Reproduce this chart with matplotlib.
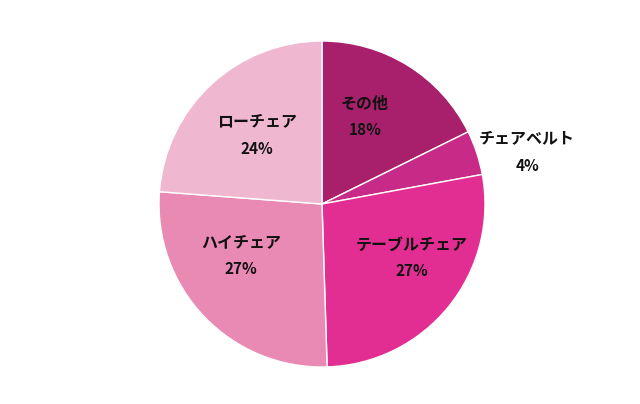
import matplotlib
matplotlib.use("Agg")
import matplotlib.pyplot as plt

plt.rcParams['font.family'] = ['Noto Sans CJK JP', 'DejaVu Sans']

categories = ["その他", "チェアベルト", "テーブルチェア", "ハイチェア", "ローチェア"]
values = [17.7, 4.4, 27.4, 26.7, 23.8]
colors = ["#A8206B", "#C82A88", "#E22E92", "#E98AB4", "#F0B7D0"]

W, H = 640, 404
cx, cy, R = 322, 204, 163

fig = plt.figure(figsize=(W / 100, H / 100), dpi=100)
ax = fig.add_axes([0, 0, 1, 1])
ax.pie(values, colors=colors, startangle=90, counterclock=False, radius=1,
       wedgeprops=dict(edgecolor="white", linewidth=1.0))
ax.set_xlim(-cx / R, (W - cx) / R)
ax.set_ylim(-(H - cy) / R, cy / R)
ax.set_aspect('equal')
ax.axis('off')

# label centres in pie units (radius = 1)
label_pos = [(0.264, 0.534), (1.258, 0.319), (0.552, -0.331), (-0.497, -0.319), (-0.399, 0.423)]
dy = 13.5 / R
for name, v, (x, y) in zip(categories, values, label_pos):
    ax.text(x, y + dy, name, ha='center', va='center', fontsize=11.5, fontweight='bold', color='#111111')
    ax.text(x, y - dy, f"{round(v)}%", ha='center', va='center', fontsize=11, fontweight='bold', color='#111111')

fig.savefig("out.png", dpi=100)
